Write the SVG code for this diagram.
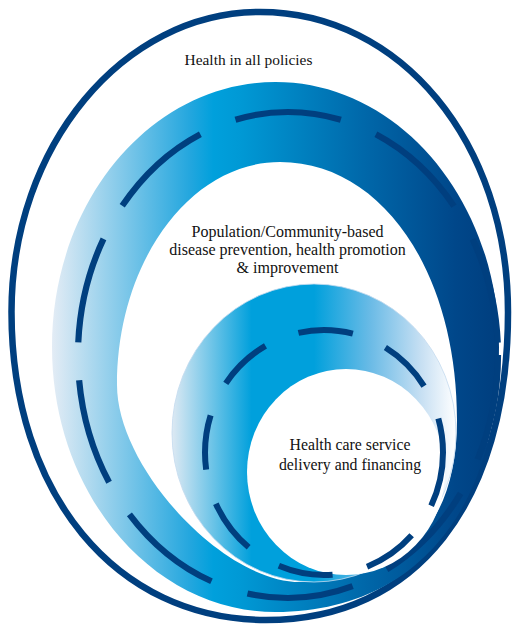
<svg xmlns="http://www.w3.org/2000/svg" width="512" height="624" viewBox="0 0 512 624">
<defs>
<linearGradient id="gMid" gradientUnits="userSpaceOnUse" x1="52" y1="0" x2="500" y2="0">
<stop offset="0" stop-color="#e3ecf5"/>
<stop offset="0.31" stop-color="#22a6de"/>
<stop offset="0.36" stop-color="#00a0dc"/>
<stop offset="0.42" stop-color="#0099d5"/>
<stop offset="0.7" stop-color="#0067a9"/>
<stop offset="0.9" stop-color="#00478a"/>
<stop offset="1" stop-color="#003e7e"/>
</linearGradient>
<linearGradient id="gIn" gradientUnits="userSpaceOnUse" x1="172" y1="0" x2="456" y2="0">
<stop offset="0" stop-color="#dde9f3"/>
<stop offset="0.28" stop-color="#00a0dc"/>
<stop offset="0.5" stop-color="#00a0dc"/>
<stop offset="0.7" stop-color="#6bbbe6"/>
<stop offset="0.88" stop-color="#c8e0f3"/>
<stop offset="1" stop-color="#ffffff"/>
</linearGradient>
<style>
.navy{fill:none;stroke:#003f7f}
.lbl{font-family:"Liberation Serif","Times New Roman",serif;font-size:16px;fill:#111;text-anchor:middle}
</style>
</defs>
<rect width="512" height="624" fill="#ffffff"/>
<g id="outer">
<path class="navy" stroke-width="6.5" d="M11.5,312 C11.5,146.3 122.8,12 260,12 C401,12 508,143 508,312 C508,503 416,620 266,620 C115.8,620 11.5,493.7 11.5,312 Z"/>
<text class="lbl" x="248.5" y="65" style="font-size:15.4px">Health in all policies</text>
</g>
<g id="middle">
<path fill="url(#gMid)" fill-rule="evenodd" d="M52,347 C52,200.6 152.1,82 275.5,82 C398.9,82 499,200.6 499,347 C499,511.3 414.1,612 275.5,612 C152.1,612 52,493.4 52,347 Z M117,385 C117,261.8 190,162 280,162 C382,162 457,272 457,420 C457,525 403,582 300,582 C223.1,582 117,467.7 117,385 Z"/>
<ellipse class="navy" cx="288" cy="355" rx="210" ry="243" stroke-width="6.2" stroke-dasharray="107 38"/>
<text class="lbl"><tspan x="287.5" y="236.7">Population/Community-based</tspan><tspan x="287.5" y="255">disease prevention, health promotion</tspan><tspan x="287.5" y="273.3">&amp; improvement</tspan></text>
</g>
<g id="inner">
<ellipse cx="314" cy="433" rx="142" ry="149" fill="url(#gIn)" stroke="#c4dbef" stroke-width="0.8"/>
<ellipse cx="346" cy="472" rx="99" ry="103" fill="#ffffff"/>
<ellipse class="navy" cx="324" cy="452.5" rx="119" ry="122.5" stroke-width="6" stroke-dasharray="55 35.5"/>
<text class="lbl" style="font-size:15.8px"><tspan x="350" y="450">Health care service</tspan><tspan x="350" y="470">delivery and financing</tspan></text>
</g>
<g id="connectors"></g>
</svg>
